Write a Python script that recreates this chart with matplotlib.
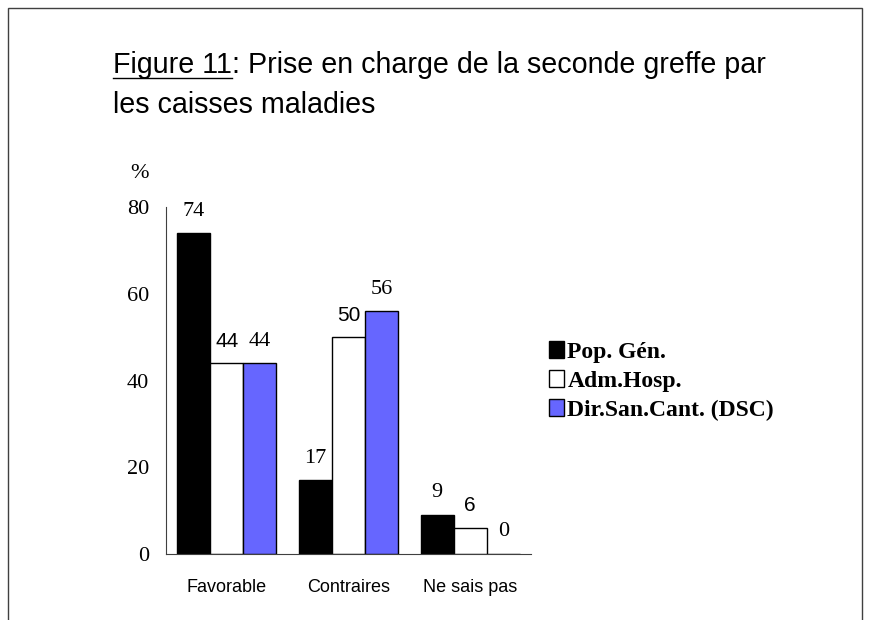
import matplotlib.pyplot as plt
from matplotlib.lines import Line2D
from matplotlib.patches import Rectangle
import numpy as np

categories = ["Favorable", "Contraires", "Ne sais pas"]
series_names = ["Pop. Gén.", "Adm.Hosp.", "Dir.San.Cant. (DSC)"]
pop_gen = [74, 17, 9]
adm_hosp = [44, 50, 6]
dir_san = [44, 56, 0]
colors = ["#000000", "#ffffff", "#6666ff"]
# labels of the white series are drawn in a sans font in the original
label_fonts = ["Liberation Serif", "Liberation Sans", "Liberation Serif"]
label_sizes = [16, 15, 16]
yticks = [0, 20, 40, 60, 80]

sans = "Liberation Sans"

fig = plt.figure(figsize=(8.7, 6.2), dpi=100)
fig.patches.append(Rectangle((8 / 870, -0.1), 854 / 870, 1.1 - 8 / 620, transform=fig.transFigure,
                             fill=False, edgecolor="#404040", linewidth=1))

ax = fig.add_axes([166 / 870, 66 / 620, 365 / 870, 347 / 620])
x = np.arange(len(categories))
w = 0.272
all_series = [pop_gen, adm_hosp, dir_san]
for i, (vals, col) in enumerate(zip(all_series, colors)):
    pos = x + (i - 1) * w
    ax.bar(pos, vals, width=w, color=col, edgecolor="black", linewidth=1,
           label=series_names[i], zorder=2)
    for px, v in zip(pos, vals):
        ax.annotate(str(v), (px, v), xytext=(0, 9), textcoords="offset points",
                    ha="center", va="bottom", fontsize=label_sizes[i], family=label_fonts[i])

ax.set_xlim(-0.5, 2.5)
ax.set_ylim(0, 80)
ax.set_yticks(yticks)
ax.set_yticklabels([str(t) for t in yticks], family="Liberation Serif", fontsize=16)
ax.set_xticks(x)
ax.set_xticklabels(categories, family=sans, fontsize=13)
ax.tick_params(axis="both", length=0)
ax.tick_params(axis="y", pad=12)
ax.tick_params(axis="x", pad=18)
for s in ["top", "right"]:
    ax.spines[s].set_visible(False)
ax.spines["left"].set_color("#404040")
ax.spines["bottom"].set_color("#404040")

fig.text(140 / 870, 1 - 173 / 620, "%", family="Liberation Serif", fontsize=16, ha="center", va="center")

leg = ax.legend(loc="center left", bbox_to_anchor=(528 / 870, 1 - 381 / 620), bbox_transform=fig.transFigure,
                frameon=False, handlelength=0.62, handleheight=0.75, handletextpad=0.15, labelspacing=0.3,
                prop={"family": "Liberation Serif", "weight": "bold", "size": 17})

# title, first part underlined
t1 = fig.text(113 / 870, 1 - 73 / 620, "Figure 11", family=sans, fontsize=20.6, va="baseline")
fig.canvas.draw()
bb = t1.get_window_extent()
fig.text(bb.x1 / 870, 1 - 73 / 620, ": Prise en charge de la seconde greffe par",
         family=sans, fontsize=20.6, va="baseline")
fig.text(113 / 870, 1 - 113 / 620, "les caisses maladies", family=sans, fontsize=20.6, va="baseline")
fig.lines.append(Line2D([bb.x0, bb.x1], [bb.y0 + 1, bb.y0 + 1], transform=None, color="black", linewidth=1))

fig.savefig("out.png", dpi=100)
